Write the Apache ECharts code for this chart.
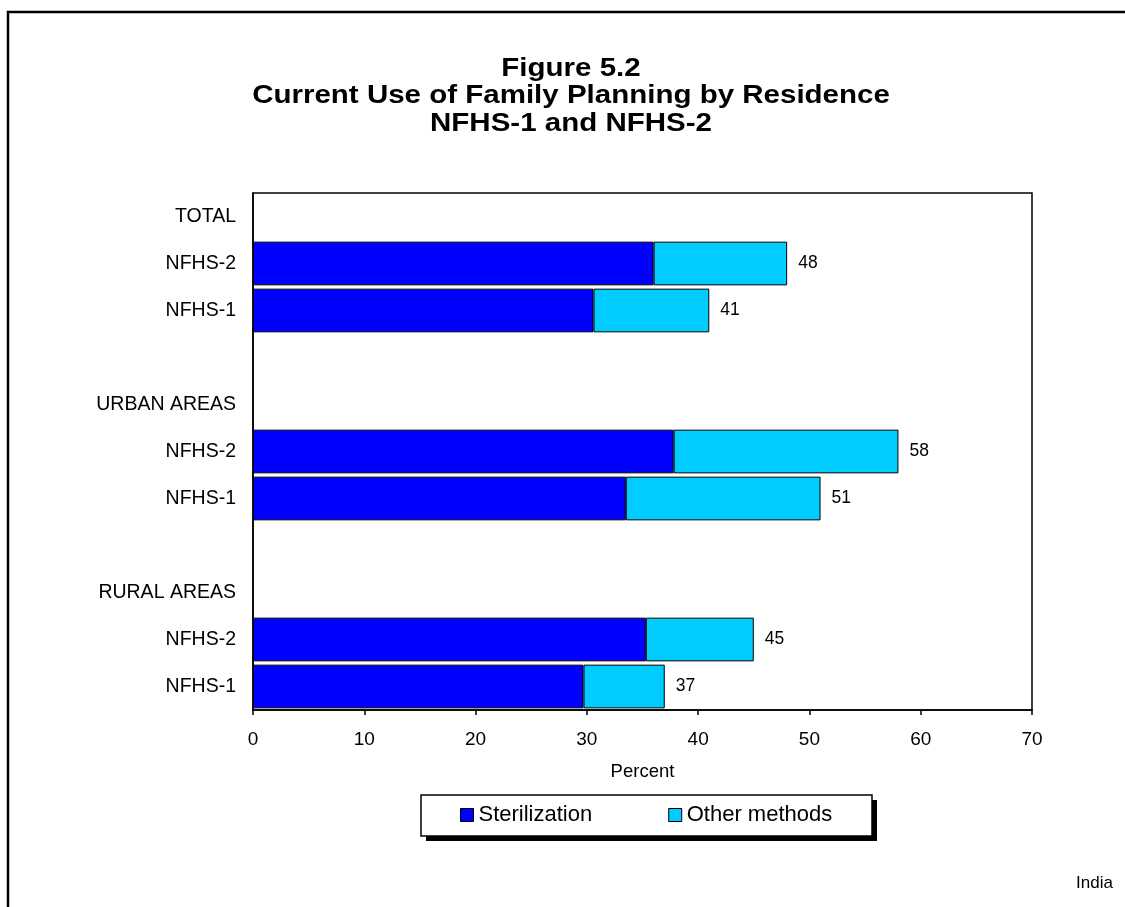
<!DOCTYPE html>
<html>
<head>
<meta charset="utf-8">
<title>Figure 5.2 Current Use of Family Planning by Residence</title>
<script src="https://cdn.jsdelivr.net/npm/echarts@6/dist/echarts.min.js"></script>
<style>
  html, body { margin: 0; padding: 0; background: #fff; }
  #chart { width: 1125px; height: 907px; }
</style>
</head>
<body>
<div id="chart"></div>
<script>
// Residence groups and the two survey rounds shown within each group
const groups = ['TOTAL', 'URBAN AREAS', 'RURAL AREAS'];
const surveys = ['NFHS-2', 'NFHS-1'];

// Percent of currently married women using a method, per group, NFHS-2 then NFHS-1
const sterilization = [36.0, 30.6, 37.8, 33.5, 35.3, 29.7];
const otherMethods  = [12.0, 10.4, 20.2, 17.5,  9.7,  7.3];

const seriesNames = ['Sterilization', 'Other methods'];
const xTicks = { min: 0, max: 70, interval: 10 };
const xName = 'Percent';
const footnote = 'India';
const titleLines = ['Figure 5.2', 'Current Use of Family Planning by Residence', 'NFHS-1 and NFHS-2'];

const FONT = "'Liberation Sans', Arial, Helvetica, sans-serif";

// Build the category rows: a heading row per group, its survey rows, then a spacer row
const categories = [];
const sterRow = [];
const otherRow = [];
groups.forEach((g, gi) => {
  if (gi > 0) { categories.push(''); sterRow.push(null); otherRow.push(null); }
  categories.push(g); sterRow.push(null); otherRow.push(null);
  surveys.forEach((s, si) => {
    const k = gi * surveys.length + si;
    categories.push(s);
    sterRow.push(sterilization[k]);
    otherRow.push(otherMethods[k]);
  });
});

const chart = echarts.init(document.getElementById('chart'), null, { renderer: 'canvas' });

// Three-line heading, slightly widened
const titleGraphics = titleLines.map((t, i) => ({
  type: 'text',
  x: 571,
  y: 69 + i * 27.5,
  scaleX: 1.18,
  z: 10,
  style: {
    text: t,
    font: 'bold 25px ' + FONT,
    fill: '#000',
    textAlign: 'center',
    textVerticalAlign: 'middle'
  }
}));

// Legend frame with a solid drop shadow
const legendBox = { x: 421, y: 795, width: 451, height: 41, shadow: 5 };

chart.setOption({
  animation: false,
  backgroundColor: '#fff',
  textStyle: { fontFamily: FONT },
  grid: {
    left: 253, right: 93, top: 193, bottom: 197,
    show: true, borderColor: '#000', borderWidth: 1.5, backgroundColor: '#fff'
  },
  legend: {
    data: seriesNames,
    left: 421, top: 795,
    orient: 'horizontal',
    itemWidth: 13, itemHeight: 13, itemGap: 76,
    padding: [9, 37, 9, 39],
    backgroundColor: 'transparent',
    borderWidth: 0,
    z: 20,
    textStyle: { fontSize: 22, color: '#000', fontFamily: FONT },
    itemStyle: { borderColor: '#000', borderWidth: 1 },
    icon: 'rect'
  },
  xAxis: {
    type: 'value',
    min: xTicks.min, max: xTicks.max, interval: xTicks.interval,
    name: xName, nameLocation: 'middle', nameGap: 52,
    nameTextStyle: { fontSize: 18.5, color: '#000', fontFamily: FONT },
    axisLine: { show: true, lineStyle: { color: '#000', width: 1.5 } },
    axisTick: { show: true, length: 5, inside: false, lineStyle: { color: '#000', width: 1.5 } },
    axisLabel: { fontSize: 19, color: '#000', margin: 20, fontFamily: FONT },
    splitLine: { show: false }
  },
  yAxis: {
    type: 'category',
    data: categories,
    inverse: true,
    axisLine: { show: true, lineStyle: { color: '#000', width: 1.5 } },
    axisTick: { show: false },
    axisLabel: { fontSize: 19.5, color: '#000', margin: 17, fontFamily: FONT, interval: 0 },
    splitLine: { show: false }
  },
  series: [
    {
      name: seriesNames[0],
      type: 'bar',
      stack: 'use',
      data: sterRow,
      barCategoryGap: '7%',
      itemStyle: { color: '#0000FF', borderColor: '#000', borderWidth: 1 }
    },
    {
      name: seriesNames[1],
      type: 'bar',
      stack: 'use',
      data: otherRow,
      barCategoryGap: '7%',
      itemStyle: { color: '#00CCFF', borderColor: '#000', borderWidth: 1 },
      label: {
        show: true,
        position: 'right',
        distance: 11,
        fontSize: 17.5,
        color: '#000',
        fontFamily: FONT,
        formatter: p => {
          const v = sterRow[p.dataIndex] + otherRow[p.dataIndex];
          return String(Math.round(v));
        }
      }
    }
  ],
  graphic: [
    {
      type: 'polyline',
      z: 1,
      shape: { points: [[8, 907], [8, 12], [1125, 12]] },
      style: { stroke: '#000', lineWidth: 2.5, fill: null }
    },
    {
      type: 'rect',
      z: 5,
      shape: {
        x: legendBox.x + legendBox.shadow, y: legendBox.y + legendBox.shadow,
        width: legendBox.width, height: legendBox.height
      },
      style: { fill: '#000' }
    },
    {
      type: 'rect',
      z: 6,
      shape: { x: legendBox.x, y: legendBox.y, width: legendBox.width, height: legendBox.height },
      style: { fill: '#fff', stroke: '#000', lineWidth: 1.5 }
    },
    ...titleGraphics,
    {
      type: 'text',
      x: 1076, y: 883,
      z: 10,
      style: {
        text: footnote,
        font: '17px ' + FONT,
        fill: '#000',
        textAlign: 'left',
        textVerticalAlign: 'middle'
      }
    }
  ]
});
</script>
</body>
</html>
